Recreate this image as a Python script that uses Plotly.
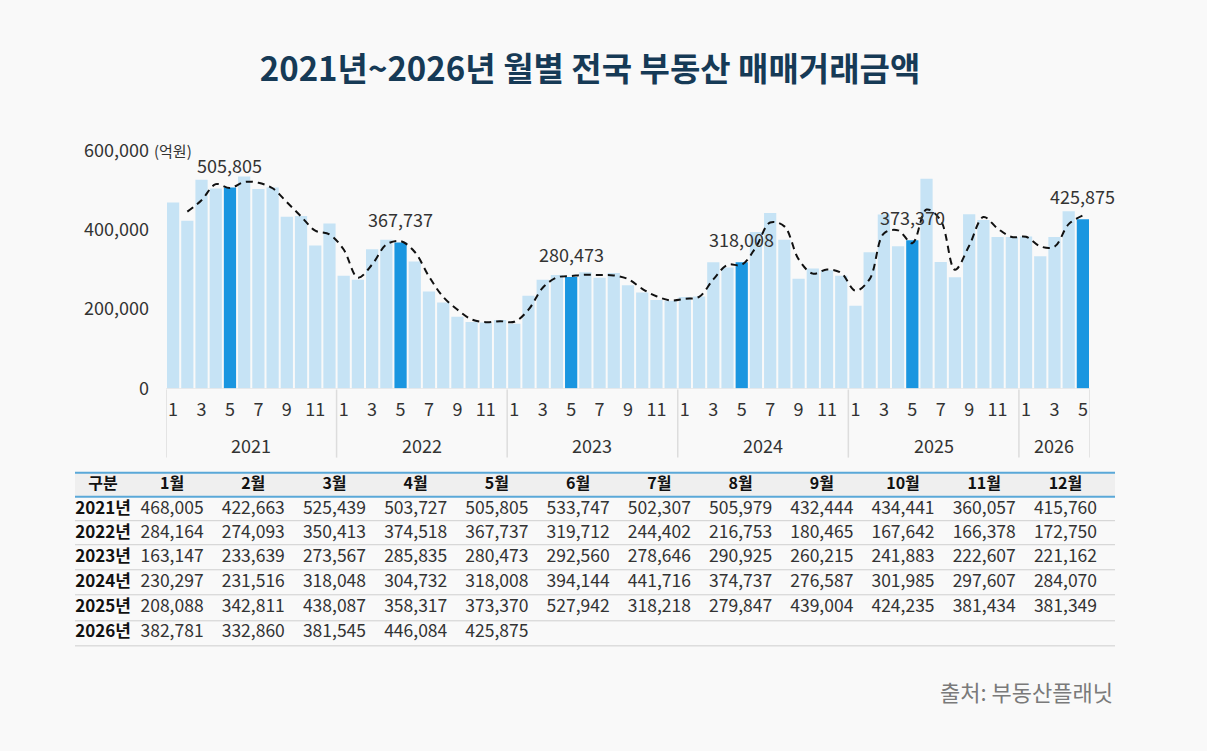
import pandas as pd
import plotly.graph_objects as go

# ---- data (억원) ----
years = [2021, 2022, 2023, 2024, 2025, 2026]
month_labels = ["1월", "2월", "3월", "4월", "5월", "6월",
                "7월", "8월", "9월", "10월", "11월", "12월"]
values_2021 = [468005, 422663, 525439, 503727, 505805, 533747, 502307, 505979, 432444, 434441, 360057, 415760]
values_2022 = [284164, 274093, 350413, 374518, 367737, 319712, 244402, 216753, 180465, 167642, 166378, 172750]
values_2023 = [163147, 233639, 273567, 285835, 280473, 292560, 278646, 290925, 260215, 241883, 222607, 221162]
values_2024 = [230297, 231516, 318048, 304732, 318008, 394144, 441716, 374737, 276587, 301985, 297607, 284070]
values_2025 = [208088, 342811, 438087, 358317, 373370, 527942, 318218, 279847, 439004, 424235, 381434, 381349]
values_2026 = [382781, 332860, 381545, 446084, 425875]
highlight_month = 5
y_ticks = [0, 200000, 400000, 600000]

rows = [values_2021, values_2022, values_2023, values_2024, values_2025, values_2026]
amounts = [v for r in rows for v in r]
month_no = [m + 1 for r in rows for m in range(len(r))]
idx = list(range(len(amounts)))
trend = pd.Series(amounts).rolling(2).mean()  # 2개월 이동평균

W, H = 1207, 751
FIG_H = 763  # the capture squeezes the page a little vertically
def fx(p):
    return p / W
def fy(p):
    return 1 - p / H

FONT = "Noto Sans CJK KR"
LIGHT = "#c6e3f5"
DARK = "#1a96e0"
BG = "#f9f9f9"

fig = go.Figure()

colors = [DARK if m == highlight_month else LIGHT for m in month_no]
fig.add_trace(go.Bar(x=idx, y=amounts, marker=dict(color=colors, line_width=0),
                     hoverinfo="y", showlegend=False))
fig.add_trace(go.Scatter(x=idx, y=trend, mode="lines", showlegend=False,
                         line=dict(color="#111111", width=2, dash="7px,5px",
                                   shape="spline", smoothing=1.0),
                         hoverinfo="skip"))

# labels above the highlighted bars
for i, (m, v) in enumerate(zip(month_no, amounts)):
    if m == highlight_month:
        fig.add_annotation(x=i, y=v, text=f"{v:,}", showarrow=False,
                           yanchor="bottom", yshift=8,
                           font=dict(family=FONT, size=18, color="#333333"))

# year group labels and dividers
start = 0
for yr, r in zip(years, rows):
    fig.add_annotation(x=start + (len(r) - 1) / 2, y=fy(444), yref="paper",
                       yanchor="middle", text=str(yr), showarrow=False,
                       font=dict(family=FONT, size=18, color="#333333"))
    fig.add_shape(type="line", xref="x", yref="paper", x0=start - 0.5, x1=start - 0.5,
                  y0=fy(389), y1=fy(457), line=dict(color="#dddddd", width=1.5))
    start += len(r)
fig.add_shape(type="line", xref="x", yref="paper", x0=start - 0.5, x1=start - 0.5,
              y0=fy(389), y1=fy(457), line=dict(color="#dddddd", width=1.5))
fig.add_shape(type="line", xref="x", yref="y", x0=-0.5, x1=start - 0.5, y0=0, y1=0,
              line=dict(color="#dddddd", width=1))

fig.add_annotation(x=fx(152), y=600000, xref="paper", yref="y", text="(억원)",
                   showarrow=False, xanchor="left",
                   font=dict(family=FONT, size=15, color="#333333"))

# ---- table (y2 runs in reference pixel rows) ----
col_x = list(range(12))
label_x = -0.85
header_y = 484
row_y = [509, 533, 557, 582, 607, 632]
sep_y = [520, 544, 569, 594, 620, 645]

fig.add_shape(type="rect", xref="paper", yref="y2", x0=fx(75), x1=fx(1115),
              y0=472, y1=496, fillcolor="#efefef", line_width=0, layer="below")
for yy in (472, 496):
    fig.add_shape(type="line", xref="paper", yref="y2", x0=fx(75), x1=fx(1115),
                  y0=yy, y1=yy, line=dict(color="#5aa8d8", width=2))
for yy in sep_y:
    fig.add_shape(type="line", xref="paper", yref="y2", x0=fx(75), x1=fx(1115),
                  y0=yy, y1=yy, line=dict(color="#cfcfcf", width=1))

fig.add_trace(go.Scatter(x=[label_x] + col_x, y=[header_y] * 13, mode="text",
                         text=["<b>구분</b>"] + [f"<b>{m}</b>" for m in month_labels],
                         textfont=dict(family=FONT, size=16, color="#111111"),
                         xaxis="x2", yaxis="y2", showlegend=False, hoverinfo="skip"))
for yr, r, yy in zip(years, rows, row_y):
    fig.add_trace(go.Scatter(x=[label_x], y=[yy], mode="text", text=[f"<b>{yr}년</b>"],
                             textfont=dict(family=FONT, size=17, color="#111111"),
                             xaxis="x2", yaxis="y2", showlegend=False, hoverinfo="skip"))
    fig.add_trace(go.Scatter(x=col_x[:len(r)], y=[yy] * len(r), mode="text",
                             text=[f"{v:,}" for v in r],
                             textfont=dict(family=FONT, size=17.5, color="#333333"),
                             xaxis="x2", yaxis="y2", showlegend=False, hoverinfo="skip"))

fig.add_annotation(x=fx(1115), y=fy(690), xref="paper", yref="paper", yanchor="middle",
                   text="출처: 부동산플래닛", showarrow=False, xanchor="right",
                   font=dict(family=FONT, size=22, color="#7a7a7a"))

fig.update_layout(
    width=W, height=FIG_H, margin=dict(l=0, r=0, t=0, b=0),
    paper_bgcolor=BG, plot_bgcolor=BG, bargap=0.14,
    title=dict(text="<b>2021년~2026년 월별 전국 부동산 매매거래금액</b>",
               x=fx(590), y=fy(68), xanchor="center", yanchor="middle",
               font=dict(family=FONT, size=33, color="#163a56")),
    xaxis=dict(domain=[fx(166), fx(1090)], range=[-0.5, len(amounts) - 0.5],
               tickvals=[i for i, m in zip(idx, month_no) if m % 2 == 1],
               ticktext=[str(m) for m in month_no if m % 2 == 1],
               tickfont=dict(family=FONT, size=18, color="#333333"),
               ticks="", ticklabelstandoff=8, showgrid=False, zeroline=False, showline=False),
    yaxis=dict(domain=[fy(388), fy(130)], range=[0, 650420], tickvals=y_ticks,
               ticktext=[f"{v:,}" for v in y_ticks],
               tickfont=dict(family=FONT, size=18, color="#333333"),
               ticklabelstandoff=16, showgrid=False, zeroline=False, showline=False),
    xaxis2=dict(domain=[fx(75), fx(1115)], range=[-1.195, 11.61], anchor="y2",
                visible=False, fixedrange=True),
    yaxis2=dict(domain=[fy(660), fy(462)], range=[660, 462], anchor="x2",
                visible=False, fixedrange=True),
)

fig.write_html(
    "out.html",
    config={"displayModeBar": False},
    post_script=(
        "document.documentElement.style.overflow='hidden';"
        "document.body.style.margin='0';document.body.style.overflow='hidden';"
        "document.body.style.background='#f9f9f9';"
    ),
)
